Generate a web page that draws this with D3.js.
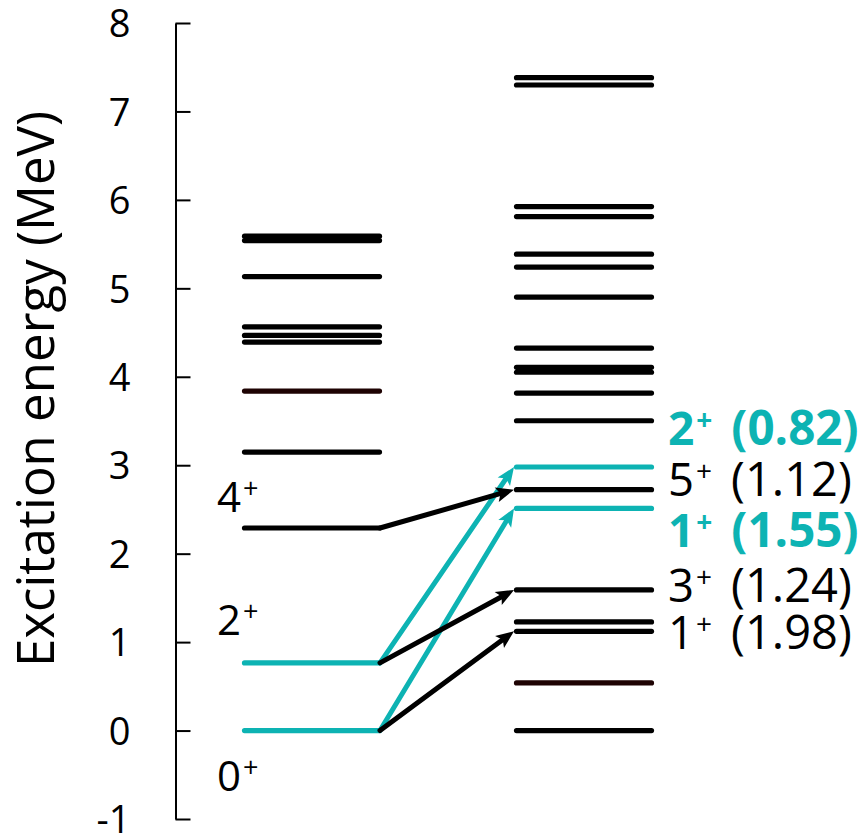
<!DOCTYPE html>
<html><head><meta charset="utf-8">
<script src="https://cdn.jsdelivr.net/npm/d3@7"></script>
<style>body{margin:0;background:#fff}</style>
</head><body><svg id="c" width="865" height="836"></svg>
<script>
// ---- data ----
const yTicks = [-1, 0, 1, 2, 3, 4, 5, 6, 7, 8];
const leftEnergies = [0, 0.765, 2.29, 3.149, 3.838, 4.392, 4.467, 4.565, 5.133, 5.54, 5.59];
const leftKinds    = ["c", "c", "k", "k", "r", "k", "k", "k", "k", "k", "k"];
const rightEnergies = [0, 0.539, 1.122, 1.228, 1.590, 2.512, 2.723, 2.98, 3.503, 3.816, 4.051, 4.107, 4.324, 4.901, 5.240, 5.386, 5.811, 5.924, 7.299, 7.382];
const rightKinds    = ["k", "r", "k", "k", "k", "c", "k", "c", "k", "k", "k", "k", "k", "k", "k", "k", "k", "k", "k", "k"];
const transFrom  = [0.765, 0, 2.29, 0.765, 0];
const transTo    = [2.98, 2.512, 2.723, 1.590, 1.122];
const transKinds = ["c", "c", "k", "k", "k"];
const leftLabelSpin = ["4", "2", "0"];
const leftLabelE    = [2.475, 1.085, -0.685];
const rightLabelSpin = ["2", "5", "1", "3", "1"];
const rightLabelVal  = ["(0.82)", "(1.12)", "(1.55)", "(1.24)", "(1.98)"];
const rightLabelBold = [true, false, true, false, false];
const rightLabelE    = [3.23, 2.652, 2.08, 1.448, 0.918];
const yTitle = "Excitation energy (MeV)";

// ---- styles ----
const colors = {c: "#0db3b3", k: "#000000", r: "#1e0303"};
const FONT = "'Open Sans', 'Noto Sans', sans-serif";

const svg = d3.select("#c");
const y = d3.scaleLinear().domain([-1, 8]).range([819, 23]);
const xCol = d3.scaleOrdinal().domain(["L0","L1","R0","R1"]).range([244.5, 379.5, 516.5, 651.5]);

// axis
const axis = d3.axisLeft(y).tickValues(yTicks).tickSizeInner(-15).tickSizeOuter(0).tickPadding(45)
  .tickFormat(d => String(d));
const gAx = svg.append("g").attr("transform", "translate(175.5,0)").call(axis);
gAx.select(".domain").attr("stroke", "#000").attr("stroke-width", 2);
gAx.selectAll(".tick line").attr("stroke", "#000").attr("stroke-width", 2);
gAx.selectAll(".tick text").attr("font-family", FONT).attr("font-size", 38).attr("fill", "#000")
  .attr("dy", "0.36em").attr("x", -45);

// title
svg.append("text").attr("transform", "translate(54,389) rotate(-90)")
  .attr("text-anchor", "middle").attr("font-family", FONT).attr("font-size", 51).attr("fill", "#000")
  .text(yTitle);

// levels
function drawLevels(energies, kinds, x0, x1) {
  svg.append("g").selectAll("line").data(energies.map((e, i) => ({e, k: kinds[i]})))
    .join("line")
    .attr("x1", x0).attr("x2", x1)
    .attr("y1", d => y(d.e)).attr("y2", d => y(d.e))
    .attr("stroke", d => colors[d.k]).attr("stroke-width", 5.2).attr("stroke-linecap", "round");
}
drawLevels(leftEnergies, leftKinds, xCol("L0"), xCol("L1"));
drawLevels(rightEnergies, rightKinds, xCol("R0"), xCol("R1"));

// transitions (cyan first, black on top)
const trans = transFrom.map((f, i) => ({f, t: transTo[i], k: transKinds[i]}));
const gT = svg.append("g");
trans.forEach(d => {
  const x0 = 380, y0 = y(d.f), x1 = 514, y1 = y(d.t);
  const dx = x1 - x0, dy = y1 - y0, L = Math.hypot(dx, dy);
  const ux = dx / L, uy = dy / L, px = -uy, py = ux;
  const hl = 18, hw = 7.5;
  const bx = x1 - ux * hl, by = y1 - uy * hl;
  gT.append("line").attr("x1", x0).attr("y1", y0).attr("x2", x1 - ux * 10).attr("y2", y1 - uy * 10)
    .attr("stroke", colors[d.k]).attr("stroke-width", 5).attr("stroke-linecap", "round");
  gT.append("path")
    .attr("d", `M${x1},${y1}L${bx + px * hw},${by + py * hw}L${bx + ux * 4},${by + uy * 4}L${bx - px * hw},${by - py * hw}Z`)
    .attr("fill", colors[d.k]);
});

// left labels
leftLabelSpin.forEach((s, i) => {
  const t = svg.append("text").attr("x", 217).attr("y", y(leftLabelE[i]))
    .attr("font-family", FONT).attr("font-size", 42).attr("fill", "#000");
  t.append("tspan").text(s);
  t.append("tspan").attr("font-size", 27).attr("dy", -14).attr("dx", 2).text("+");
});

// right labels
rightLabelSpin.forEach((s, i) => {
  const bold = rightLabelBold[i];
  const t = svg.append("text").attr("x", 668).attr("y", y(rightLabelE[i]))
    .attr("font-family", FONT).attr("font-size", bold ? 46 : 45.5)
    .attr("font-weight", bold ? "bold" : "normal")
    .attr("fill", bold ? colors.c : "#000");
  t.append("tspan").text(s);
  t.append("tspan").attr("font-size", 28).attr("dy", -15).attr("dx", 2).text("+");
  t.append("tspan").attr("dy", 15).attr("dx", 19).attr("font-size", bold ? 47.5 : 47).text(rightLabelVal[i]);
});
</script></body></html>
